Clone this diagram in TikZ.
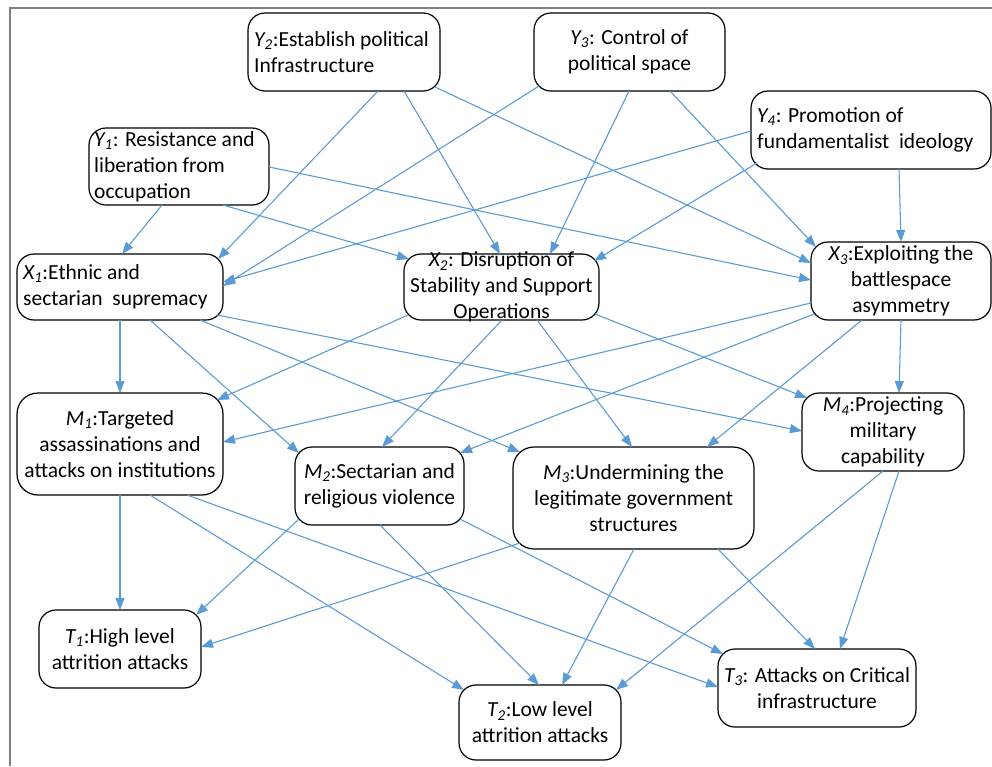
\documentclass[tikz,border=0pt]{standalone}
\usepackage{fontspec}
\setmainfont{Carlito}
\usetikzlibrary{arrows.meta}
\definecolor{arr}{HTML}{5B9BD5}
\definecolor{framecol}{HTML}{808080}
\newcommand\vs[2]{\textit{#1\textsubscript{#2}}}
\newcommand\linkarrow[6]{\draw[arrow] ([shift={(#2,#3)}]#1.north west) -- ([shift={(#5,#6)}]#4.north west);}
\begin{document}
\begin{tikzpicture}[x=1pt,y=-1pt,
 box/.style={draw=black, line width=1.2pt, rounded corners=17pt, fill=white, outer sep=0pt, inner sep=0pt, anchor=north west},
 bigbox/.style={box, rounded corners=21pt},
 lbl/.style={inner sep=0pt, font=\fontsize{21.5}{25.8}\selectfont},
 arrow/.style={draw=arr, line width=1.1pt, -{Triangle[length=12pt,width=9pt]}}]
\useasboundingbox (0,0) rectangle (992,766);
\draw[framecol, line width=1.5pt] (10,766) -- (10,8) -- (992,8);
% boxes
\node[box, minimum width=192pt, minimum height=78pt] (y2) at (248,13) {};
\node[box, minimum width=191pt, minimum height=78pt] (y3) at (534,13) {};
\node[box, minimum width=180pt, minimum height=77pt] (y1) at (89,128) {};
\node[box, minimum width=240pt, minimum height=78pt] (y4) at (751,91) {};
\node[box, minimum width=206pt, minimum height=66pt] (x1) at (17,254) {};
\node[box, minimum width=195pt, minimum height=66pt] (x2) at (404,254) {};
\node[box, minimum width=180pt, minimum height=78pt] (x3) at (811,242) {};
\node[bigbox, minimum width=206pt, minimum height=102pt] (m1) at (17,393) {};
\node[box, minimum width=169pt, minimum height=78pt] (m2) at (295,447) {};
\node[bigbox, minimum width=241pt, minimum height=102pt] (m3) at (513,447) {};
\node[box, minimum width=162pt, minimum height=78pt] (m4) at (802,393) {};
\node[box, minimum width=162pt, minimum height=78pt] (t1) at (39,610) {};
\node[box, minimum width=162pt, minimum height=75pt] (t2) at (459,685) {};
\node[box, minimum width=198pt, minimum height=78pt] (t3) at (718,649) {};
% texts
\node[lbl, align=left, anchor=west] (y2t) at (254,52) {\vs{Y}{2}:Establish political\\Infrastructure};
\node[lbl, align=left, anchor=west] (y1t) at (94,166.5) {\vs{Y}{1}: Resistance and\\liberation from\\occupation};
\node[lbl, align=left, anchor=west] (x1t) at (23,287) {\vs{X}{1}:Ethnic and\\sectarian\ \ supremacy};
\node[lbl, align=left, anchor=west] (y4t) at (757,130) {\vs{Y}{4}: Promotion of\\fundamentalist\ \ ideology};
\node[lbl, align=center] (y3t) at (629.5,52) {\vs{Y}{3}: Control of\\political space};
\node[lbl, align=center] (x2t) at (501.5,287) {\vs{X}{2}: Disruption of\\Stability and Support\\Operations};
\node[lbl, align=center] (x3t) at (901,281) {\vs{X}{3}:Exploiting the\\battlespace\\asymmetry};
\node[lbl, align=center] (m1t) at (120,444) {\vs{M}{1}:Targeted\\assassinations and\\attacks on institutions};
\node[lbl, align=center] (m2t) at (379.5,486) {\vs{M}{2}:Sectarian and\\religious violence};
\node[lbl, align=center] (m3t) at (633.5,498) {\vs{M}{3}:Undermining the\\legitimate government\\structures};
\node[lbl, align=center] (m4t) at (883,432) {\vs{M}{4}:Projecting\\military\\capability};
\node[lbl, align=center] (t1t) at (120,649) {\vs{T}{1}:High level\\attrition attacks};
\node[lbl, align=center] (t2t) at (540,722.5) {\vs{T}{2}:Low level\\attrition attacks};
\node[lbl, align=center] (t3t) at (817,688) {\vs{T}{3}: Attacks on Critical\\infrastructure};
% connectors
\linkarrow{y2}{130}{78}{x1}{201}{5}
\linkarrow{y2}{156}{78}{x2}{96}{0}
\linkarrow{y2}{187}{74}{x3}{0}{21}
\linkarrow{y3}{5}{73}{x1}{206}{32}
\linkarrow{y3}{95}{78}{x2}{146}{0}
\linkarrow{y3}{136}{78}{x3}{5}{5}
\linkarrow{y4}{0}{40}{x1}{206}{28}
\linkarrow{y4}{6}{72}{x2}{190}{7}
\linkarrow{y4}{148}{78}{x3}{90}{0}
\linkarrow{y1}{73}{77}{x1}{105}{0}
\linkarrow{y1}{134}{77}{x2}{5}{5}
\linkarrow{y1}{180}{39}{x3}{0}{38}
\linkarrow{x1}{103}{66}{m1}{103}{0}
\linkarrow{x1}{133}{66}{m2}{4}{6}
\linkarrow{x1}{183}{66}{m3}{7}{5}
\linkarrow{x1}{200}{61}{m4}{0}{38}
\linkarrow{x2}{4}{61}{m1}{200}{7}
\linkarrow{x2}{98}{66}{m2}{87}{0}
\linkarrow{x2}{133}{66}{m3}{119}{0}
\linkarrow{x2}{191}{60}{m4}{5}{5}
\linkarrow{x3}{0}{61}{m1}{206}{49}
\linkarrow{x3}{3}{72}{m2}{165}{6}
\linkarrow{x3}{51}{78}{m3}{194}{0}
\linkarrow{x3}{90}{78}{m4}{97}{0}
\linkarrow{m1}{103}{102}{t1}{81}{0}
\linkarrow{m1}{133}{102}{t2}{5}{5}
\linkarrow{m1}{170}{102}{t3}{0}{38}
\linkarrow{m2}{4}{72}{t1}{157}{5}
\linkarrow{m2}{85}{78}{t2}{80}{0}
\linkarrow{m2}{165}{72}{t3}{5}{5}
\linkarrow{m3}{7}{96}{t1}{162}{37}
\linkarrow{m3}{121}{102}{t2}{103}{0}
\linkarrow{m3}{205}{102}{t3}{97}{0}
\linkarrow{m4}{81}{78}{t2}{157}{5}
\linkarrow{m4}{97}{78}{t3}{122}{0}
\end{tikzpicture}
\end{document}
